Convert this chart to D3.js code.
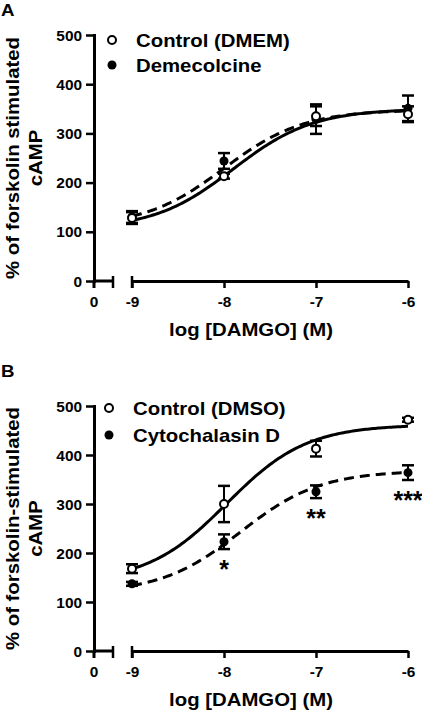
<!DOCTYPE html>
<html>
<head>
<meta charset="utf-8">
<script src="https://cdn.jsdelivr.net/npm/d3@7"></script>
<style>
  html, body { margin: 0; padding: 0; background: #fff; }
  svg { display: block; }
  text { font-family: "Liberation Sans", Arial, Helvetica, sans-serif; font-weight: bold; fill: #000; }
</style>
</head>
<body>
<svg id="chart" width="422" height="711"></svg>
<script>
// ---------- data ----------
const logDose = [-9, -8, -7, -6];
const xTickLabels = ["-9", "-8", "-7", "-6"];
const yTicks = [0, 100, 200, 300, 400, 500];

// Panel A
const aControl = [128, 213, 335, 339];
const aControlErr = [12, 5, 20, 16];
const aDemecolcine = [130, 244, 329, 351];
const aDemecolcineErr = [12, 16, 30, 26];
// fitted sigmoid parameters (bottom, top, logEC50)
const aControlFit = [105, 350, -7.9];
const aDemecolcineFit = [110, 348, -8.0];

// Panel B
const bControl = [168, 300, 413, 472];
const bControlErr = [9, 37, 16, 4];
const bCytochalasin = [137, 223, 325, 364];
const bCytochalasinErr = [4, 15, 13, 15];
const bControlFit = [140, 462, -7.97];
const bCytochalasinFit = [118, 368, -7.82];
const bStars = ["", "*", "**", "***"];

const panels = [
  { letter: "A", top: 35, bottom: 281, letterY: 16,
    yTitle: ["% of forskolin stimulated", "cAMP"],
    legend: ["Control (DMEM)", "Demecolcine"], legX: 112, legTextX: 136, legY: [40, 65],
    open: aControl, openErr: aControlErr, openFit: aControlFit,
    filled: aDemecolcine, filledErr: aDemecolcineErr, filledFit: aDemecolcineFit, stars: null },
  { letter: "B", top: 406, bottom: 651, letterY: 377,
    yTitle: ["% of forskolin-stimulated", "cAMP"],
    legend: ["Control (DMSO)", "Cytochalasin D"], legX: 109, legTextX: 133, legY: [408, 435],
    open: bControl, openErr: bControlErr, openFit: bControlFit,
    filled: bCytochalasin, filledErr: bCytochalasinErr, filledFit: bCytochalasinFit, stars: bStars }
];

// ---------- drawing ----------
const svg = d3.select("#chart");
const x = d3.scaleLinear().domain([-9, -6]).range([132, 408]);
const axisX0 = 94;   // x position of y axis / "0" of the broken x axis
const breakEnd = 113;

function hill(p, v) { return p[0] + (p[1] - p[0]) / (1 + Math.pow(10, p[2] - v)); }

panels.forEach(P => {
  const y = d3.scaleLinear().domain([0, 500]).range([P.bottom, P.top]);
  const g = svg.append("g");

  // panel letter
  g.append("text").attr("x", 1).attr("y", P.letterY).attr("font-size", 17).text(P.letter);

  // y axis
  const yAxis = g.append("g").attr("transform", `translate(${axisX0},0)`)
    .call(d3.axisLeft(y).tickValues(yTicks).tickSize(8).tickSizeOuter(0).tickPadding(4));
  yAxis.select(".domain").attr("stroke", "#000").attr("stroke-width", 3).attr("stroke-linecap", "square");
  yAxis.selectAll(".tick line").attr("stroke", "#000").attr("stroke-width", 2.5);
  yAxis.selectAll(".tick text").attr("font-size", 14).attr("font-family", null).attr("fill", "#000").attr("dy", "0.36em");

  // x axis (main segment)
  const xAxis = g.append("g").attr("transform", `translate(0,${P.bottom})`)
    .call(d3.axisBottom(x).tickValues(logDose).tickFormat((d, i) => xTickLabels[i]).tickSize(7).tickSizeOuter(0).tickPadding(9));
  xAxis.select(".domain").attr("stroke", "#000").attr("stroke-width", 3);
  xAxis.selectAll(".tick line").attr("stroke", "#000").attr("stroke-width", 2.5);
  xAxis.selectAll(".tick text").attr("font-size", 14).attr("font-family", null).attr("fill", "#000");
  // cap at start of main segment (extends above axis)
  g.append("line").attr("x1", x(-9)).attr("x2", x(-9)).attr("y1", P.bottom - 5).attr("y2", P.bottom + 7)
    .attr("stroke", "#000").attr("stroke-width", 2.5);

  // broken segment 0 .. break
  g.append("line").attr("x1", axisX0).attr("x2", breakEnd).attr("y1", P.bottom).attr("y2", P.bottom)
    .attr("stroke", "#000").attr("stroke-width", 3);
  g.append("line").attr("x1", breakEnd).attr("x2", breakEnd).attr("y1", P.bottom - 5).attr("y2", P.bottom + 7)
    .attr("stroke", "#000").attr("stroke-width", 2.5);
  g.append("line").attr("x1", axisX0).attr("x2", axisX0).attr("y1", P.bottom).attr("y2", P.bottom + 7)
    .attr("stroke", "#000").attr("stroke-width", 3);
  g.append("text").attr("x", axisX0).attr("y", P.bottom + 26).attr("text-anchor", "middle")
    .attr("font-size", 14).text("0");

  // x title
  g.append("text").attr("x", 251).attr("y", P.bottom + 55).attr("text-anchor", "middle")
    .attr("font-size", 18.5).text("log [DAMGO] (M)");

  // y title
  const cy = (P.top + P.bottom) / 2;
  [18.5, 42].forEach((bx, i) => {
    g.append("text").attr("transform", `translate(${bx},${cy}) rotate(-90)`)
      .attr("text-anchor", "middle").attr("font-size", 18.5).text(P.yTitle[i]);
  });

  // curves
  const grid = d3.range(-9, -6 + 1e-9, 0.02);
  const line = d3.line().x(d => x(d[0])).y(d => y(d[1]));
  g.append("path").datum(grid.map(v => [v, hill(P.openFit, v)])).attr("d", line)
    .attr("fill", "none").attr("stroke", "#000").attr("stroke-width", 3);
  g.append("path").datum(grid.map(v => [v, hill(P.filledFit, v)])).attr("d", line)
    .attr("fill", "none").attr("stroke", "#000").attr("stroke-width", 3).attr("stroke-dasharray", "10,6");

  // error bars
  function errBars(vals, errs) {
    vals.forEach((v, i) => {
      const cx = x(logDose[i]), y1 = y(v - errs[i]), y2 = y(v + errs[i]);
      g.append("line").attr("x1", cx).attr("x2", cx).attr("y1", y1).attr("y2", y2).attr("stroke", "#000").attr("stroke-width", 2);
      [y1, y2].forEach(yy => g.append("line").attr("x1", cx - 6).attr("x2", cx + 6).attr("y1", yy).attr("y2", yy)
        .attr("stroke", "#000").attr("stroke-width", 2.5));
    });
  }
  errBars(P.filled, P.filledErr);
  errBars(P.open, P.openErr);

  // markers
  g.selectAll(null).data(P.filled).enter().append("circle")
    .attr("cx", (d, i) => x(logDose[i])).attr("cy", d => y(d)).attr("r", 4.5).attr("fill", "#000");
  g.selectAll(null).data(P.open).enter().append("circle")
    .attr("cx", (d, i) => x(logDose[i])).attr("cy", d => y(d)).attr("r", 4).attr("fill", "#fff")
    .attr("stroke", "#000").attr("stroke-width", 2);

  // significance stars
  if (P.stars) {
    P.stars.forEach((s, i) => {
      if (!s) return;
      g.append("text").attr("x", x(logDose[i])).attr("y", y(P.filled[i] - P.filledErr[i]) + 29)
        .attr("text-anchor", "middle").attr("font-size", 25).text(s);
    });
  }

  // legend
  g.append("circle").attr("cx", P.legX).attr("cy", P.legY[0]).attr("r", 4).attr("fill", "#fff")
    .attr("stroke", "#000").attr("stroke-width", 2);
  g.append("circle").attr("cx", P.legX).attr("cy", P.legY[1]).attr("r", 4.5).attr("fill", "#000");
  P.legend.forEach((t, i) => g.append("text").attr("x", P.legTextX).attr("y", P.legY[i] + 6.5)
    .attr("font-size", 18.5).text(t));
});

// slightly wider glyphs, as in the reference typeface
svg.selectAll("text").each(function () {
  const t = d3.select(this);
  if (t.text().trim().length === 0 || /^\*+$/.test(t.text())) return;
  const w = this.getComputedTextLength();
  t.attr("textLength", w * 1.1).attr("lengthAdjust", "spacingAndGlyphs");
});
</script>
</body>
</html>
